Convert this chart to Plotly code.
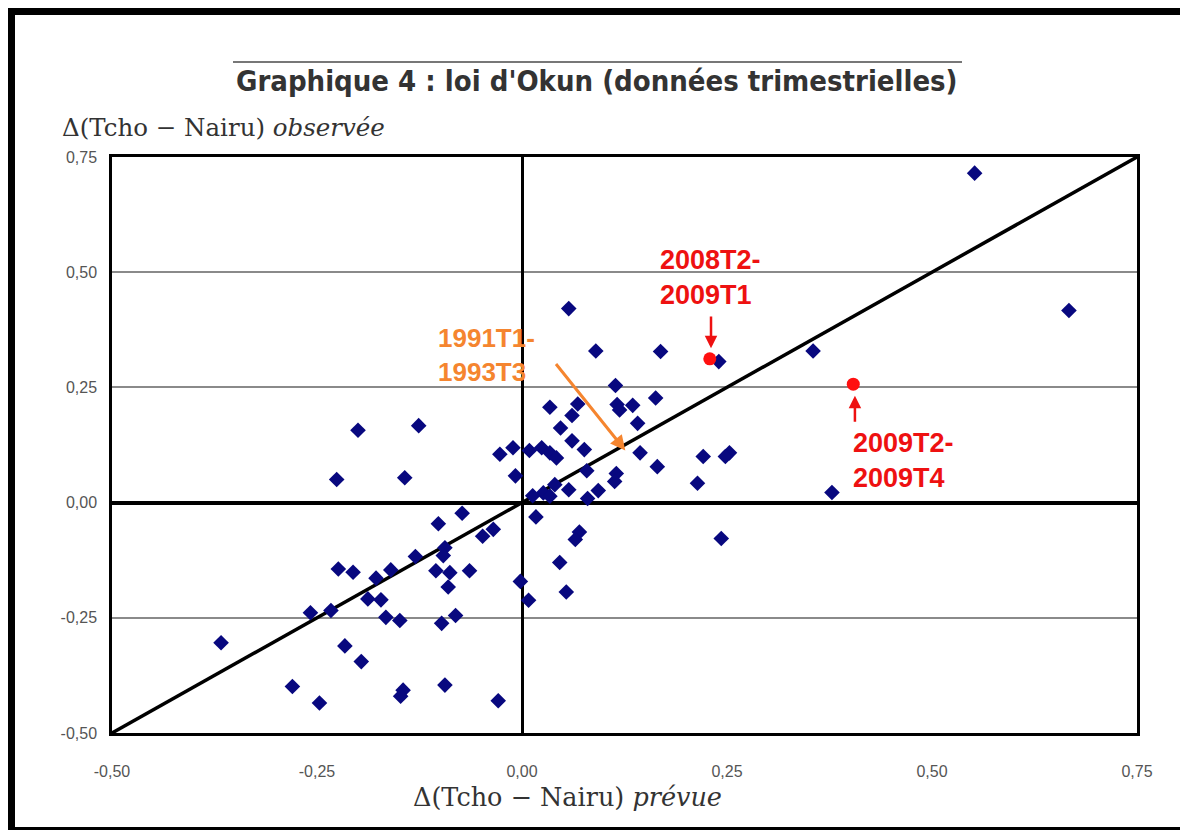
import plotly.graph_objects as go

# Blue observations: predicted vs observed change (Tcho - Nairu)
x_prevue = [0.552, 0.667, 0.355, 0.378, 0.240, 0.169, 0.090, 0.057, 0.114, 0.116,
            0.119, 0.135, 0.163, 0.141, 0.144, 0.165, 0.221, 0.253, 0.248, 0.214,
            0.243, 0.034, 0.068, 0.061, 0.047, 0.061, 0.076, 0.009, 0.024, 0.034,
            0.042, -0.027, -0.011, -0.008, 0.079, 0.115, 0.113, 0.093, 0.080, 0.057,
            0.040, 0.026, 0.013, 0.034, 0.017, 0.070, 0.065, 0.046, 0.054, -0.002,
            0.008, -0.126, -0.200, -0.226, -0.143, -0.073, -0.102, -0.035, -0.048, -0.130,
            -0.094, -0.096, -0.105, -0.088, -0.064, -0.090, -0.160, -0.224, -0.206, -0.178,
            -0.188, -0.172, -0.258, -0.233, -0.166, -0.149, -0.098, -0.081, -0.367, -0.216,
            -0.196, -0.280, -0.247, -0.145, -0.148, -0.094, -0.029]
y_observee = [0.715, 0.417, 0.329, 0.022, 0.306, 0.328, 0.329, 0.421, 0.254, 0.213,
              0.201, 0.211, 0.227, 0.172, 0.108, 0.078, 0.100, 0.108, 0.100, 0.042,
              -0.078, 0.207, 0.214, 0.189, 0.162, 0.134, 0.115, 0.113, 0.119, 0.108,
              0.097, 0.105, 0.119, 0.058, 0.069, 0.063, 0.046, 0.026, 0.009, 0.028,
              0.039, 0.021, 0.015, 0.014, -0.031, -0.064, -0.080, -0.130, -0.194, -0.171,
              -0.212, 0.167, 0.157, 0.050, 0.054, -0.023, -0.046, -0.058, -0.073, -0.117,
              -0.098, -0.115, -0.148, -0.152, -0.148, -0.183, -0.146, -0.144, -0.151, -0.164,
              -0.209, -0.211, -0.239, -0.234, -0.249, -0.256, -0.262, -0.245, -0.304, -0.311,
              -0.345, -0.399, -0.435, -0.407, -0.420, -0.396, -0.430]

# Highlighted crisis periods (red)
x_crise = [0.229, 0.404]
y_crise = [0.312, 0.257]

# 45-degree reference line
diag = [-0.5, 0.75]

tick_vals = [-0.5, -0.25, 0.0, 0.25, 0.5, 0.75]
tick_text = ["-0,50", "-0,25", "0,00", "0,25", "0,50", "0,75"]

fig = go.Figure()
fig.add_trace(go.Scatter(x=diag, y=diag, mode="lines",
                         line=dict(color="black", width=3.5), hoverinfo="skip"))
fig.add_trace(go.Scatter(x=x_prevue, y=y_observee, mode="markers",
                         marker=dict(symbol="diamond", size=12, color="#08087f")))
fig.add_trace(go.Scatter(x=x_crise, y=y_crise, mode="markers",
                         marker=dict(symbol="circle", size=13, color="#ff1010")))

# page body has an 8px margin: figure pixel = screen pixel - 8
OFF = 8
W, H = 1188 - OFF, 830 - OFF
L, T = 112 - OFF, 157 - OFF
R = W - (1137 - OFF)
B = H - (733 - OFF)
pw, ph = W - L - R, H - T - B

def px(x):
    return (x - OFF - L) / pw

def py(y):
    return (H - B - (y - OFF)) / ph

tickfont = dict(family="Liberation Sans", size=16, color="#555")
fig.update_layout(
    width=W, height=H,
    margin=dict(l=L, r=R, t=T, b=B),
    paper_bgcolor="white", plot_bgcolor="white",
    showlegend=False,
    xaxis=dict(range=[-0.5, 0.75], tickvals=tick_vals, ticktext=tick_text,
               showgrid=False, zeroline=True, zerolinecolor="black", zerolinewidth=2.5,
               showline=True, mirror=True, linecolor="black", linewidth=2.5,
               ticks="", ticklabelstandoff=22, tickfont=tickfont),
    yaxis=dict(range=[-0.5, 0.75], tickvals=tick_vals, ticktext=tick_text,
               showgrid=True, gridcolor="#8a8a8a", gridwidth=2,
               zeroline=True, zerolinecolor="black", zerolinewidth=3.5,
               showline=True, mirror=True, linecolor="black", linewidth=2.5,
               ticks="", ticklabelstandoff=9, tickfont=tickfont),
    font=dict(family="Liberation Sans", color="#333"),
)

shapes = [
    # outer frame
    dict(type="rect", xref="paper", yref="paper",
         x0=px(10.5), x1=px(1189.5), y0=py(831.5), y1=py(10.5),
         line=dict(color="black", width=9), fillcolor="rgba(0,0,0,0)", layer="above"),
    # overline above title
    dict(type="line", xref="paper", yref="paper",
         x0=px(233), x1=px(962), y0=py(62), y1=py(62),
         line=dict(color="#777", width=2)),
]
fig.update_layout(shapes=shapes)

lab_font = "Liberation Sans"
anns = [
    dict(xref="paper", yref="paper", x=px(597), y=py(81), xanchor="center", yanchor="middle",
         text="<b>Graphique 4 : loi d'Okun (données trimestrielles)</b>", showarrow=False,
         font=dict(family="DejaVu Sans Condensed", size=29, color="#333")),
    dict(xref="paper", yref="paper", x=px(60), y=py(128), xanchor="left", yanchor="middle",
         text="Δ(Tcho − Nairu) <i>observée</i>", showarrow=False,
         font=dict(family="DejaVu Serif", size=24.5, color="#333")),
    dict(xref="paper", yref="paper", x=px(567), y=py(797), xanchor="center", yanchor="middle",
         text="Δ(Tcho − Nairu) <i>prévue</i>", showarrow=False,
         font=dict(family="DejaVu Serif", size=25.5, color="#333")),
    # labels
    dict(x=0.166, y=0.488, xref="x", yref="y", xanchor="left", yanchor="middle",
         text="<b>2008T2-<br>2009T1</b>", showarrow=False, align="left",
         font=dict(family=lab_font, size=27, color="#ee1111")),
    dict(x=0.401, y=0.092, xref="x", yref="y", xanchor="left", yanchor="middle",
         text="<b>2009T2-<br>2009T4</b>", showarrow=False, align="left",
         font=dict(family=lab_font, size=27, color="#ee1111")),
    dict(x=-0.105, y=0.320, xref="x", yref="y", xanchor="left", yanchor="middle",
         text="<b>1991T1-<br>1993T3</b>", showarrow=False, align="left",
         font=dict(family=lab_font, size=26, color="#f5852f")),
    # arrows
    dict(x=0.2305, y=0.335, ax=0.2305, ay=0.407, xref="x", yref="y", axref="x", ayref="y",
         text="", showarrow=True, arrowhead=2, arrowsize=1, arrowwidth=2.5, arrowcolor="#ee1111"),
    dict(x=0.406, y=0.232, ax=0.406, ay=0.172, xref="x", yref="y", axref="x", ayref="y",
         text="", showarrow=True, arrowhead=2, arrowsize=1, arrowwidth=2.5, arrowcolor="#ee1111"),
    dict(x=0.126, y=0.113, ax=0.040, ay=0.304, xref="x", yref="y", axref="x", ayref="y",
         text="", showarrow=True, arrowhead=2, arrowsize=1, arrowwidth=3, arrowcolor="#f5852f"),
]
fig.update_layout(annotations=anns)

fig.write_html("out.html")
